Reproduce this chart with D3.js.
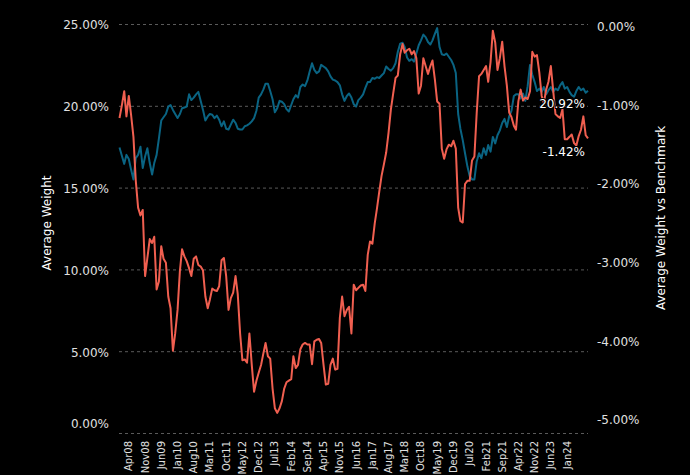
<!DOCTYPE html>
<html>
<head>
<meta charset="utf-8">
<script src="https://cdn.jsdelivr.net/npm/d3@7"></script>
<style>
  body { margin: 0; background: #000; }
  svg text { font-family: "DejaVu Sans", sans-serif; }
</style>
</head>
<body>
<script>
// monthly values, first point Dec 2007
var startMonth = new Date(2007, 11, 1);

// Average Weight (%), left axis
var weight = [
  17.45, 16.95, 16.45, 17.0, 16.75, 16.1, 15.5, 16.8, 17.0, 17.5, 16.2, 16.9, 17.4, 16.5, 15.8, 16.5, 17.0, 18.0, 19.1, 19.3,
  19.5, 19.95, 20.05, 19.75, 19.5, 19.25, 19.5, 19.85, 19.9, 19.95, 20.7, 20.35, 20.5, 20.7, 20.85, 20.3, 19.75, 19.1, 19.35, 19.5,
  19.45, 19.25, 19.4, 19.15, 18.75, 19.05, 18.6, 18.55, 18.85, 19.15, 18.95, 18.6, 18.55, 18.55, 18.75, 18.8, 18.9, 19.05, 19.25, 19.7,
  20.5, 20.7, 21.0, 21.35, 21.35, 20.9, 20.4, 19.6, 19.85, 20.3, 20.25, 20.1, 19.8, 19.65, 20.05, 20.4, 20.65, 20.5, 21.15, 21.3,
  21.2, 21.55, 22.1, 22.6, 22.2, 22.0, 22.1, 22.5, 22.4, 22.3, 22.1, 21.8, 21.6, 21.55, 21.45, 21.25, 20.7, 20.3, 20.6, 20.75,
  20.5, 20.1, 19.95, 20.35, 20.5, 20.7, 21.1, 21.45, 21.45, 21.7, 21.65, 21.75, 21.7, 21.85, 22.0, 22.4, 22.25, 22.15, 22.3, 22.6,
  23.3, 23.8, 23.85, 23.6, 22.95, 22.75, 22.85, 22.7, 23.2, 23.7, 24.0, 24.35, 24.2, 23.9, 23.75, 24.0, 24.4, 24.75, 23.6, 23.15,
  23.1, 23.2, 23.0, 22.8, 22.5, 22.0, 19.5, 18.6, 17.9, 17.1, 16.3, 15.7, 15.5, 15.5, 16.6, 17.1, 16.8, 17.4, 17.0, 17.6,
  17.2, 18.1, 17.7, 18.2, 18.5, 18.95, 19.2, 18.7, 19.35, 19.7, 20.6, 20.7, 20.7, 20.45, 20.75, 20.3, 21.2, 22.5, 21.9, 21.45,
  20.9, 21.05, 20.85, 21.15, 20.7, 20.95, 21.15, 20.85, 21.05, 20.95, 21.25, 21.45, 21.05, 21.15, 20.85, 20.65, 20.55, 20.9, 21.15, 20.95,
  21.05, 20.8, 20.92
];

// Average Weight vs Benchmark (%), right axis
var active = [
  -1.16, -1.0, -0.82, -1.14, -0.88, -1.12, -1.4, -1.95, -2.3, -2.4, -2.33, -3.17, -2.94, -2.7, -2.75, -2.67, -3.34, -3.24, -2.79, -2.95,
  -3.0, -3.43, -3.58, -4.12, -3.9, -3.6, -3.1, -2.83, -2.92, -2.98, -3.07, -3.17, -2.95, -2.92, -3.03, -3.05, -3.1, -3.43, -3.58, -3.47,
  -3.33, -3.35, -3.36, -3.3, -2.97, -2.94, -3.17, -3.6, -3.45, -3.38, -3.17, -3.4, -3.9, -4.24, -4.23, -4.27, -3.9, -4.3, -4.64, -4.5,
  -4.4, -4.3, -4.15, -4.02, -4.19, -4.22, -4.6, -4.85, -4.91, -4.85, -4.76, -4.6, -4.52, -4.5, -4.48, -4.19, -4.34, -4.3, -4.1, -4.04,
  -4.02, -4.04, -4.04, -4.29, -4.0, -3.98, -3.97, -4.02, -4.3, -4.55, -4.54, -4.3, -4.22, -4.36, -4.35, -3.7, -3.43, -3.68, -3.6, -3.56,
  -3.9, -3.28, -3.35, -3.32, -3.29, -3.28, -3.36, -2.9, -2.73, -2.76, -2.5, -2.32, -2.1, -1.9, -1.75, -1.6, -1.35, -1.05, -0.85, -0.65,
  -0.62, -0.35, -0.22, -0.33, -0.3, -0.28, -0.35, -0.31, -0.4, -0.85, -0.75, -0.4, -0.5, -0.6, -0.5, -0.43, -0.67, -0.95, -0.98, -1.55,
  -1.68, -1.56, -1.5, -1.52, -1.45, -1.55, -2.3, -2.47, -2.49, -2.0, -1.96, -1.96, -1.7, -1.65, -1.1, -0.63, -0.6, -0.55, -0.5, -0.7,
  -0.45, -0.05, -0.2, -0.55, -0.4, -0.19, -0.5, -0.75, -1.09, -1.15, -1.26, -1.31, -0.95, -0.8, -0.94, -0.9, -0.92, -0.82, -0.32, -0.38,
  -0.36, -0.58, -0.88, -0.97, -0.8, -0.7, -0.5, -0.8, -1.11, -1.14, -1.16, -1.05, -1.43, -1.43, -1.4, -1.37, -1.48, -1.51, -1.39, -1.31,
  -1.14, -1.38, -1.42
];

var tickLabels = ["Apr08","Nov08","Jun09","Jan10","Aug10","Mar11","Oct11","May12","Dec12","Jul13",
  "Feb14","Sep14","Apr15","Nov15","Jun16","Jan17","Aug17","Mar18","Oct18","May19",
  "Dec19","Jul20","Feb21","Sep21","Apr22","Nov22","Jun23","Jan24"];
var leftTicks = [0, 5, 10, 15, 20, 25];
var rightTicks = [0, -1, -2, -3, -4, -5];

var w = 690, h = 475;
var plotLeft = 119, plotRight = 588, plotTop = 24, plotBottom = 433;

var svg = d3.select("body").append("svg")
    .attr("width", w)
    .attr("height", h)
    .style("background", "#000");

var dates = weight.map(function(d, i) { return d3.timeMonth.offset(startMonth, i); });

var x = d3.scaleTime()
    .domain([dates[0], dates[dates.length - 1]])
    .range([plotLeft + 0.5, plotRight]);
var yL = d3.scaleLinear().domain([0, 25]).range([plotBottom, plotTop]);
var yR = d3.scaleLinear().domain([-5, 0]).range([420, 26.7]);

var fmt = function(v) { return v.toFixed(2) + "%"; };

// grid
svg.append("g").selectAll("line")
    .data(leftTicks)
  .enter().append("line")
    .attr("x1", plotLeft).attr("x2", plotRight)
    .attr("y1", function(d) { return yL(d) + 0.5; })
    .attr("y2", function(d) { return yL(d) + 0.5; })
    .attr("stroke", "#5a5a5a")
    .attr("stroke-dasharray", "3,3");

// left axis labels
svg.append("g").selectAll("text")
    .data(leftTicks)
  .enter().append("text")
    .attr("x", 109)
    .attr("y", function(d) { return yL(d) + (d === 0 ? -4.6 : 5.4); })
    .attr("text-anchor", "end")
    .attr("font-size", 12)
    .attr("fill", "#e0e0e0")
    .text(fmt);

// right axis labels
svg.append("g").selectAll("text")
    .data(rightTicks)
  .enter().append("text")
    .attr("x", 597)
    .attr("y", function(d) { return yR(d) + 4.4; })
    .attr("font-size", 12)
    .attr("fill", "#e0e0e0")
    .text(fmt);

// x labels
var parse = d3.timeParse("%b%y");
svg.append("g").selectAll("text")
    .data(tickLabels)
  .enter().append("text")
    .attr("transform", function(d) { return "translate(" + x(parse(d)) + ",441)rotate(-90)"; })
    .attr("dy", "0.35em")
    .attr("text-anchor", "end")
    .attr("font-size", 10)
    .attr("fill", "#e0e0e0")
    .text(function(d) { return d; });

// axis titles
svg.append("text")
    .attr("transform", "translate(47,223)rotate(-90)")
    .attr("dy", "0.35em")
    .attr("text-anchor", "middle")
    .attr("font-size", 12)
    .attr("fill", "#fff")
    .text("Average Weight");

svg.append("text")
    .attr("transform", "translate(661,218)rotate(-90)")
    .attr("dy", "0.35em")
    .attr("text-anchor", "middle")
    .attr("font-size", 12)
    .attr("fill", "#fff")
    .text("Average Weight vs Benchmark");

// lines
var lineL = d3.line()
    .x(function(d, i) { return x(dates[i]); })
    .y(function(d) { return yL(d); });
var lineR = d3.line()
    .x(function(d, i) { return x(dates[i]); })
    .y(function(d) { return yR(d); });

svg.append("path")
    .datum(weight)
    .attr("d", lineL)
    .attr("fill", "none")
    .attr("stroke", "#0a6483")
    .attr("stroke-width", 2)
    .attr("stroke-linejoin", "round");

svg.append("path")
    .datum(active)
    .attr("d", lineR)
    .attr("fill", "none")
    .attr("stroke", "#f05f50")
    .attr("stroke-width", 2)
    .attr("stroke-linejoin", "round");

// end labels
var n = weight.length - 1;
svg.append("text")
    .attr("x", x(dates[n]) - 3)
    .attr("y", yL(weight[n]) + 17)
    .attr("text-anchor", "end")
    .attr("font-size", 12)
    .attr("fill", "#fff")
    .attr("stroke", "#000")
    .attr("stroke-width", 2)
    .attr("paint-order", "stroke")
    .text(fmt(weight[n]));

svg.append("text")
    .attr("x", x(dates[n]) - 3)
    .attr("y", yR(active[n]) + 17.5)
    .attr("text-anchor", "end")
    .attr("font-size", 12)
    .attr("fill", "#fff")
    .attr("stroke", "#000")
    .attr("stroke-width", 2)
    .attr("paint-order", "stroke")
    .text(fmt(active[n]));
</script>
</body>
</html>
